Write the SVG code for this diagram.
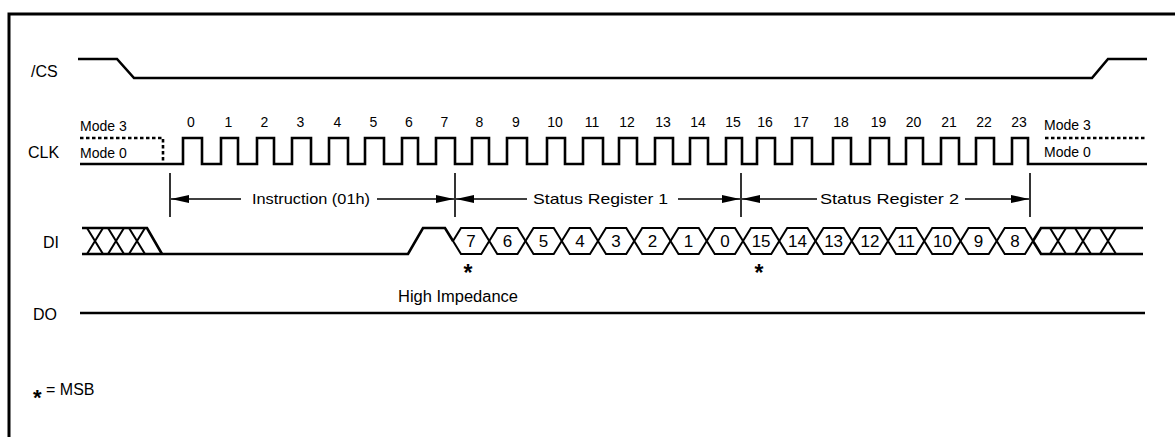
<svg xmlns="http://www.w3.org/2000/svg" width="1175" height="437" viewBox="0 0 1175 437">
<style>
text{font-family:"Liberation Sans",Arial,sans-serif;fill:#000}
.lbl{font-size:16px}
.mode{font-size:14px}
.num{font-size:14px;text-anchor:middle}
.dig{font-size:17px;text-anchor:middle}
.sig{fill:none;stroke:#000;stroke-width:2.6;stroke-linejoin:miter}
.hex{fill:none;stroke:#000;stroke-width:2}
.dot{fill:none;stroke:#000;stroke-width:2.6;stroke-dasharray:3.5 2.5}
.mk{stroke:#000;stroke-width:1.6}
.arr{stroke:#000;stroke-width:1.5;fill:none;marker-end:url(#ah)}
.big{font-size:15px}
.ast{font-size:23px;text-anchor:middle;font-weight:bold}
</style>
<defs>
<marker id="ah" markerUnits="userSpaceOnUse" markerWidth="18" markerHeight="8" refX="18" refY="4" orient="auto">
<path d="M0,0 L18,4 L0,8 z" fill="#000"/>
</marker>
</defs>
<rect width="1175" height="437" fill="#fff"/>
<path d="M9,437 V14 H1175" fill="none" stroke="#000" stroke-width="3"/>

<g id="labels">
<text class="lbl" x="31" y="77">/CS</text>
<text class="lbl" x="28" y="158">CLK</text>
<text class="lbl" x="43" y="248">DI</text>
<text class="lbl" x="33" y="320">DO</text>
</g>

<g id="cs">
<path class="sig" stroke-width="3" d="M78,59 H117 L134,78 H1092 L1108,59 H1147"/>
</g>

<g id="clk">
<path class="dot" d="M80,138 H163 V164"/>
<path class="dot" d="M1045,138 H1147"/>
<path class="sig" d="M80,164 H183 V138 H202 V164 H221 V138 H238 V164 H257 V138 H274 V164 H292 V138 H311 V164 H329 V138 H348 V164 H365 V138 H384 V164 H402 V138 H418 V164 H436 V138 H455 V164 H472 V138 H489 V164 H507 V138 H527 V164 H547 V138 H565 V164 H583 V138 H603 V164 H619 V138 H637 V164 H655 V138 H673 V164 H690 V138 H708 V164 H726 V138 H742 V164 H757 V138 H775 V164 H792 V138 H812 V164 H833 V138 H851 V164 H870 V138 H889 V164 H906 V138 H923 V164 H941 V138 H959 V164 H976 V138 H994 V164 H1012 V138 H1028 V164 H1147"/>
<text class="mode" x="80" y="131">Mode 3</text>
<text class="mode" x="80" y="158">Mode 0</text>
<text class="mode" x="1044" y="130">Mode 3</text>
<text class="mode" x="1044" y="157">Mode 0</text>
<text class="num" x="191" y="127">0</text>
<text class="num" x="228.5" y="127">1</text>
<text class="num" x="264.5" y="127">2</text>
<text class="num" x="300.5" y="127">3</text>
<text class="num" x="337.5" y="127">4</text>
<text class="num" x="373.5" y="127">5</text>
<text class="num" x="409" y="127">6</text>
<text class="num" x="444.5" y="127">7</text>
<text class="num" x="479.5" y="127">8</text>
<text class="num" x="516" y="127">9</text>
<text class="num" x="555" y="127">10</text>
<text class="num" x="592" y="127">11</text>
<text class="num" x="627" y="127">12</text>
<text class="num" x="663" y="127">13</text>
<text class="num" x="698" y="127">14</text>
<text class="num" x="733" y="127">15</text>
<text class="num" x="765" y="127">16</text>
<text class="num" x="801" y="127">17</text>
<text class="num" x="841" y="127">18</text>
<text class="num" x="878.5" y="127">19</text>
<text class="num" x="913.5" y="127">20</text>
<text class="num" x="949" y="127">21</text>
<text class="num" x="984" y="127">22</text>
<text class="num" x="1019" y="127">23</text>
</g>

<g id="connectors">
<line class="mk" x1="170" y1="173" x2="170" y2="217"/>
<line class="mk" x1="455" y1="173" x2="455" y2="217"/>
<line class="mk" x1="741" y1="173" x2="741" y2="217"/>
<line class="mk" x1="1030" y1="173" x2="1030" y2="217"/>
<path class="arr" d="M241,199 H171"/>
<path class="arr" d="M377,199 H454"/>
<path class="arr" d="M527,199 H456"/>
<path class="arr" d="M678,199 H740"/>
<path class="arr" d="M817,199 H742"/>
<path class="arr" d="M965,199 H1029"/>
</g>

<g id="phase-labels">
<text class="mode" x="252" y="204" textLength="118" lengthAdjust="spacingAndGlyphs">Instruction (01h)</text>
<text class="big" x="533" y="204" textLength="135" lengthAdjust="spacingAndGlyphs">Status Register 1</text>
<text class="big" x="820" y="204" textLength="139" lengthAdjust="spacingAndGlyphs">Status Register 2</text>
</g>

<g id="di">
<path class="sig" d="M82,228 H147 L162,254"/>
<path class="sig" d="M82,254 H408 L423,228 H445 L453,241"/>
<path class="hex" d="M87,228 L103,254 M87,254 L103,228 M108,228 L124,254 M108,254 L124,228 M129,228 L145,254 M129,254 L145,228"/>
<g class="hex">
<polygon points="453,241 461,228 481.25,228 489.25,241 481.25,254 461,254"/>
<polygon points="489.25,241 497.25,228 517.5,228 525.5,241 517.5,254 497.25,254"/>
<polygon points="525.5,241 533.5,228 553.75,228 561.75,241 553.75,254 533.5,254"/>
<polygon points="561.75,241 569.75,228 590,228 598,241 590,254 569.75,254"/>
<polygon points="598,241 606,228 626.25,228 634.25,241 626.25,254 606,254"/>
<polygon points="634.25,241 642.25,228 662.5,228 670.5,241 662.5,254 642.25,254"/>
<polygon points="670.5,241 678.5,228 698.75,228 706.75,241 698.75,254 678.5,254"/>
<polygon points="706.75,241 714.75,228 735,228 743,241 735,254 714.75,254"/>
<polygon points="743,241 751,228 771.25,228 779.25,241 771.25,254 751,254"/>
<polygon points="779.25,241 787.25,228 807.5,228 815.5,241 807.5,254 787.25,254"/>
<polygon points="815.5,241 823.5,228 843.75,228 851.75,241 843.75,254 823.5,254"/>
<polygon points="851.75,241 859.75,228 880,228 888,241 880,254 859.75,254"/>
<polygon points="888,241 896,228 916.25,228 924.25,241 916.25,254 896,254"/>
<polygon points="924.25,241 932.25,228 952.5,228 960.5,241 952.5,254 932.25,254"/>
<polygon points="960.5,241 968.5,228 988.75,228 996.75,241 988.75,254 968.5,254"/>
<polygon points="996.75,241 1004.75,228 1025,228 1033,241 1025,254 1004.75,254"/>
</g>
<path class="sig" d="M1033,241 L1041,228 H1143 M1033,241 L1041,254 H1143"/>
<path class="hex" d="M1050,228 L1066,254 M1050,254 L1066,228 M1075,228 L1091,254 M1075,254 L1091,228 M1100,228 L1116,254 M1100,254 L1116,228"/>
<text class="dig" x="471.1" y="247">7</text>
<text class="dig" x="507.4" y="247">6</text>
<text class="dig" x="543.6" y="247">5</text>
<text class="dig" x="579.9" y="247">4</text>
<text class="dig" x="616.1" y="247">3</text>
<text class="dig" x="652.4" y="247">2</text>
<text class="dig" x="688.6" y="247">1</text>
<text class="dig" x="724.9" y="247">0</text>
<text class="dig" x="761.1" y="247">15</text>
<text class="dig" x="797.4" y="247">14</text>
<text class="dig" x="833.6" y="247">13</text>
<text class="dig" x="869.9" y="247">12</text>
<text class="dig" x="906.1" y="247">11</text>
<text class="dig" x="942.4" y="247">10</text>
<text class="dig" x="978.6" y="247">9</text>
<text class="dig" x="1014.9" y="247">8</text>
<text class="ast" x="468" y="281">*</text>
<text class="ast" x="759" y="281">*</text>
</g>

<g id="do">
<path class="sig" stroke-width="3" d="M80,313 H1145"/>
<text class="lbl" x="398" y="302" textLength="120" lengthAdjust="spacingAndGlyphs">High Impedance</text>
</g>

<g id="legend">
<text class="lbl" x="33" y="395"><tspan font-size="22" font-weight="bold" dy="10">*</tspan><tspan dy="-10"> = MSB</tspan></text>
</g>
</svg>
